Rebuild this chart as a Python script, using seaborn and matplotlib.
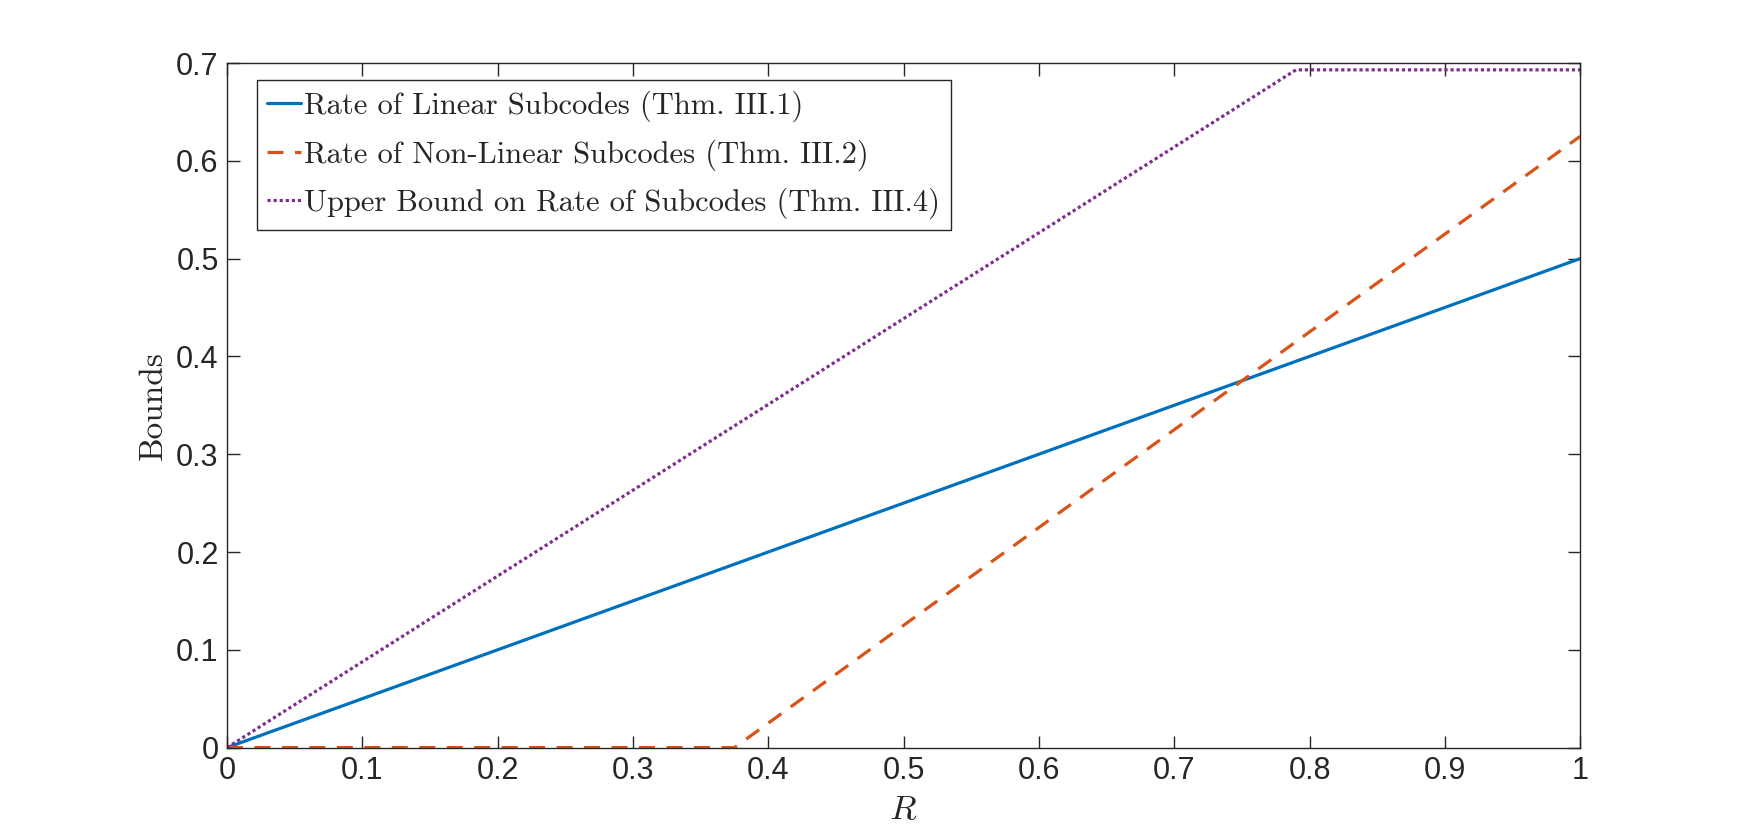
import matplotlib
matplotlib.use("Agg")
import matplotlib.pyplot as plt
import pandas as pd
import seaborn as sns

# --- Data ---
r_linear = [0.0, 1.0]
v_linear = [0.0, 0.5]
r_nonlinear = [0.0, 0.375, 1.0]
v_nonlinear = [0.0, 0.0, 0.625]
r_upper = [0.0, 0.79, 1.0]
v_upper = [0.0, 0.693, 0.693]

labels = [
    "Rate of Linear Subcodes (Thm. III.1)",
    "Rate of Non-Linear Subcodes (Thm. III.2)",
    "Upper Bound on Rate of Subcodes (Thm. III.4)",
]
colors = ["#0072BD", "#D95319", "#7E2F8E"]
x_ticks = [0, 0.1, 0.2, 0.3, 0.4, 0.5, 0.6, 0.7, 0.8, 0.9, 1]
x_ticklabels = ["0", "0.1", "0.2", "0.3", "0.4", "0.5", "0.6", "0.7", "0.8", "0.9", "1"]
y_ticks = [0, 0.1, 0.2, 0.3, 0.4, 0.5, 0.6, 0.7]
y_ticklabels = ["0", "0.1", "0.2", "0.3", "0.4", "0.5", "0.6", "0.7"]

df_lin = pd.DataFrame({"R": r_linear, "v": v_linear})
df_non = pd.DataFrame({"R": r_nonlinear, "v": v_nonlinear})
df_up = pd.DataFrame({"R": r_upper, "v": v_upper})

sns.set_theme(style="ticks")
plt.rcParams.update({
    "font.family": ["Liberation Sans", "DejaVu Sans"],
    "mathtext.fontset": "cm",
    "xtick.direction": "in",
    "ytick.direction": "in",
    "xtick.top": True,
    "ytick.right": True,
    "xtick.major.size": 9,
    "ytick.major.size": 9,
    "xtick.major.width": 1.0,
    "ytick.major.width": 1.0,
    "axes.linewidth": 1.0,
    "axes.edgecolor": "#262626",
    "xtick.color": "#262626",
    "ytick.color": "#262626",
})

fig = plt.figure(figsize=(17.46, 8.4), dpi=100)
ax = fig.add_axes([0.13, 0.11, 0.775, 0.815])

lw = 2.3
sns.lineplot(data=df_lin, x="R", y="v", ax=ax, color=colors[0], lw=lw, label=labels[0])
sns.lineplot(data=df_non, x="R", y="v", ax=ax, color=colors[1], lw=lw, label=labels[1])
sns.lineplot(data=df_up, x="R", y="v", ax=ax, color=colors[2], lw=lw, label=labels[2])
ax.lines[1].set_dashes((5, 3.6))
ax.lines[2].set_dashes((1, 0.9))

ax.set_xlim(0, 1)
ax.set_ylim(0, 0.7)
ax.set_xticks(x_ticks)
ax.set_xticklabels(x_ticklabels, fontsize=22)
ax.set_yticks(y_ticks)
ax.set_yticklabels(y_ticklabels, fontsize=22)
ax.tick_params(axis="x", pad=6)
ax.tick_params(axis="y", pad=6)
ax.set_xlabel("$R$", fontsize=25, labelpad=5)
ax.set_ylabel("Bounds", fontsize=24, family="cmr10", labelpad=6)

leg = ax.legend(loc="upper left", bbox_to_anchor=(0.022, 0.975), fancybox=False,
                framealpha=1, edgecolor="#262626", handlelength=1.1, handletextpad=0.1,
                borderpad=0.35, labelspacing=0.55, borderaxespad=0,
                prop={"family": "cmr10", "size": 22})
leg.get_frame().set_linewidth(1.0)
for h in leg.get_lines():
    h.set_linewidth(lw)

fig.savefig("out.png", dpi=100)
plt.close(fig)
